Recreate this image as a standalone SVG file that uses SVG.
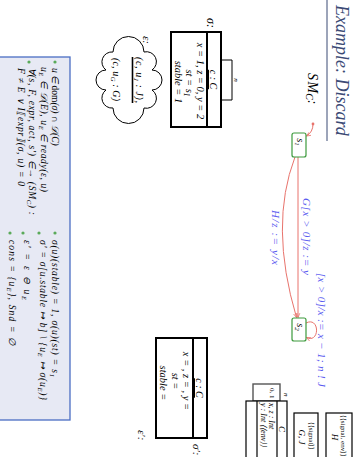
<svg xmlns="http://www.w3.org/2000/svg" width="355" height="457" viewBox="0 0 355 457">
<defs>
<style>
.m { font-family: "Liberation Serif", serif; font-style: italic; }
.r { font-family: "Liberation Serif", serif; font-style: normal; }
.lbl { fill: #5a5af0; }
.edge { fill: none; stroke: #e8736c; stroke-width: 1; }
.state { fill: #fff; stroke: #3c9a3c; stroke-width: 1.2; }
.obj { fill: #fff; stroke: #000; stroke-width: 2; }
.cls { fill: #fff; stroke: #000; stroke-width: 1.2; }
.dot { fill: #5aaa5a; }
</style>
<marker id="ah" viewBox="0 0 8 8" refX="7" refY="4" markerWidth="5" markerHeight="5" orient="auto">
<path d="M0,1 L7,4 L0,7" fill="none" stroke="#e8736c" stroke-width="1.2"/>
</marker>
</defs>
<rect width="355" height="457" fill="#fff"/>
<!-- slide is laid out landscape and turned a quarter turn clockwise -->
<g transform="translate(355,0) rotate(90)">
  <!-- title -->
  <g id="title">
    <text x="5" y="19" class="m" font-size="18" fill="#3b4a75">Example: Discard</text>
    <line x1="0" y1="28" x2="141" y2="28" stroke="#3b4a75" stroke-width="1"/>
  </g>

  <!-- state machine -->
  <text x="73" y="47" class="m" font-size="14">S<tspan dx="1.5">M</tspan><tspan font-size="10" dy="2.5">C</tspan><tspan dy="-2.5">:</tspan></text>

  <g id="connectors">
    <circle cx="124" cy="42" r="1.4" fill="#e8736c"/>
    <path class="edge" d="M124,42 Q132,42 136,48.5" marker-end="url(#ah)"/>
    <path class="edge" d="M157,57 L317.5,57" marker-end="url(#ah)"/>
    <path class="edge" d="M157,60 Q225,86 317.5,58.5" marker-end="url(#ah)"/>
    <path class="edge" d="M323,49 C316,35 344,35 337.5,48.5" marker-end="url(#ah)"/>
    <text x="198" y="52" class="m lbl" font-size="11" textLength="77">G[x &gt; 0]/z := y</text>
    <text x="210" y="83" class="m lbl" font-size="11" textLength="55">H/z := y/x</text>
    <text x="273" y="37" class="m lbl" font-size="11" textLength="114">[x &gt; 0]/x := x − 1; n ! J</text>
  </g>

  <g id="s1">
    <rect class="state" x="133" y="49" width="24" height="14" rx="2"/>
    <text x="142" y="58.5" class="m" font-size="10.5" text-anchor="middle">s<tspan font-size="7" dy="2">1</tspan></text>
  </g>
  <g id="s2">
    <rect class="state" x="318" y="49" width="23" height="14" rx="2"/>
    <text x="327" y="58.5" class="m" font-size="10.5" text-anchor="middle">s<tspan font-size="7" dy="2">2</tspan></text>
  </g>

  <!-- system state sigma -->
  <g id="sigma">
    <text x="18" y="148" class="m" font-size="12">σ:</text>
    <path d="M60,134 V123 H100 V134" fill="none" stroke="#000" stroke-width="1"/>
    <text x="80" y="121" class="m" font-size="7" text-anchor="middle">n</text>
    <rect class="obj" x="32" y="134" width="95" height="50"/>
    <line x1="32" y1="148" x2="127" y2="148" stroke="#000" stroke-width="2"/>
    <text x="79.5" y="145" class="m" font-size="10" text-anchor="middle" text-decoration="underline">c : C</text>
    <text x="81" y="158.5" class="m" font-size="10.5" text-anchor="middle">x = 1, z = 0, y = 2</text>
    <text x="83" y="169" class="m" font-size="10.5" text-anchor="middle">st = s<tspan font-size="7.5" dy="2">1</tspan></text>
    <text x="82" y="180" class="m" font-size="10.5" text-anchor="middle">stable = 1</text>
  </g>

  <!-- event pool -->
  <g id="epsilon">
    <text x="36" y="212" class="m" font-size="11">ε:</text>
    <path d="M52,211 A10,10 0 0 1 70,203 A10,10 0 0 1 90,203 A10,10 0 0 1 108,211 A12,12 0 0 1 108,242 A10,10 0 0 1 90,249 A10,10 0 0 1 70,249 A10,10 0 0 1 52,242 A12,12 0 0 1 52,211 Z" fill="#fff" stroke="#000" stroke-width="1"/>
    <text x="57" y="219.5" class="m" font-size="10" textLength="46">(c, u<tspan font-size="7" dy="2">J</tspan><tspan dy="-2"> : J),</tspan></text>
    <line x1="57" y1="222.5" x2="103" y2="222.5" stroke="#000" stroke-width="1.6"/>
    <text x="58" y="242" class="m" font-size="10" textLength="43">(c, u<tspan font-size="7" dy="2">G</tspan><tspan dy="-2"> : G)</tspan></text>
  </g>

  <!-- successor state sigma' -->
  <g id="sigma-prime">
    <rect class="obj" x="338" y="148" width="100" height="51"/>
    <line x1="338" y1="162" x2="438" y2="162" stroke="#000" stroke-width="2"/>
    <text x="388" y="159" class="m" font-size="10" text-anchor="middle" text-decoration="underline">c : C</text>
    <text x="381" y="172" class="m" font-size="10.5" text-anchor="middle">x =      , z =      , y =</text>
    <text x="381" y="183" class="m" font-size="10.5" text-anchor="middle">st =</text>
    <text x="383" y="195" class="m" font-size="10.5" text-anchor="middle">stable =</text>
    <text x="444" y="162" class="m" font-size="11">σ′:</text>
  </g>
  <g id="epsilon-prime">
    <text x="430" y="217" class="m" font-size="11">ε′:</text>
  </g>

  <!-- class diagram -->
  <g id="class-C">
    <rect x="384" y="75" width="17" height="27" fill="#fff" stroke="#555" stroke-width="1.4"/>
    <text x="388" y="85" class="r" font-size="7">0, 1</text>
    <text x="393" y="71" class="m" font-size="7">n</text>
    <rect class="cls" x="401" y="68" width="60" height="41"/>
    <line x1="401" y1="78" x2="461" y2="78" stroke="#000" stroke-width="1.2"/>
    <line x1="401" y1="98" x2="461" y2="98" stroke="#000" stroke-width="1.2"/>
    <text x="429" y="76.5" class="m" font-size="9" text-anchor="middle">C</text>
    <text x="403" y="86" class="m" font-size="8">x, z : Int</text>
    <text x="403" y="94" class="m" font-size="8">y : Int ⟨⟨env⟩⟩</text>
  </g>
  <g id="class-G">
    <rect class="cls" x="413" y="37" width="48" height="24"/>
    <text x="436" y="46" class="r" font-size="7" text-anchor="middle">⟨⟨signal⟩⟩</text>
    <text x="437" y="56" class="m" font-size="9" text-anchor="middle">G, J</text>
  </g>
  <g id="class-H">
    <rect class="cls" x="413" y="3" width="48" height="26"/>
    <text x="436" y="14" class="r" font-size="7" text-anchor="middle">⟨⟨signal, env⟩⟩</text>
    <text x="437" y="23" class="m" font-size="9" text-anchor="middle">H</text>
  </g>

  <!-- conditions panel -->
  <g id="conditions">
    <rect x="57" y="285" width="363" height="90" fill="#e7e9f4" stroke="#4a6ec4" stroke-width="1.3"/>
    <circle class="dot" cx="62" cy="300" r="1.6"/>
    <circle class="dot" cx="62" cy="326" r="1.6"/>
    <text x="68" y="303" class="m" font-size="9.5">u ∈ <tspan class="r">dom</tspan>(σ) ∩ 𝒟(C)</text>
    <text x="67" y="314" class="m" font-size="9.5" textLength="125">u<tspan font-size="6.5" dy="2">E</tspan><tspan dy="-2"> ∈ 𝒟(E), u</tspan><tspan font-size="6.5" dy="2">E</tspan><tspan dy="-2"> ∈ ready(ε, u)</tspan></text>
    <text x="68" y="326" class="m" font-size="9.5" textLength="147">∀(s, F, expr, act, s′) ∈→ (SM<tspan font-size="6.5" dy="2">C</tspan><tspan dy="-2">) :</tspan></text>
    <text x="68" y="337" class="m" font-size="9.5" textLength="118">F ≠ E ∨ I⟦expr⟧(σ, u) = 0</text>

    <circle class="dot" cx="233" cy="300" r="1.6"/>
    <circle class="dot" cx="233" cy="316" r="1.6"/>
    <circle class="dot" cx="233" cy="332" r="1.6"/>
    <circle class="dot" cx="233" cy="345" r="1.6"/>
    <text x="240" y="303" class="m" font-size="9.5" textLength="137">σ(u)(stable) = 1, σ(u)(st) = s<tspan font-size="6.5" dy="2">1</tspan></text>
    <text x="240" y="315" class="m" font-size="9.5" textLength="160">σ′ = σ[u.stable ↦ b] \ {u<tspan font-size="6.5" dy="2">E</tspan><tspan dy="-2"> ↦ σ(u</tspan><tspan font-size="6.5" dy="2">E</tspan><tspan dy="-2">)}</tspan></text>
    <text x="240" y="331" class="m" font-size="9.5" textLength="60">ε′ = ε ⊖ u<tspan font-size="6.5" dy="2">E</tspan></text>
    <text x="240" y="346" class="m" font-size="9.5" textLength="105">cons = {u<tspan font-size="6.5" dy="2">E</tspan><tspan dy="-2">},    Snd = ∅</tspan></text>
  </g>
</g>
</svg>
